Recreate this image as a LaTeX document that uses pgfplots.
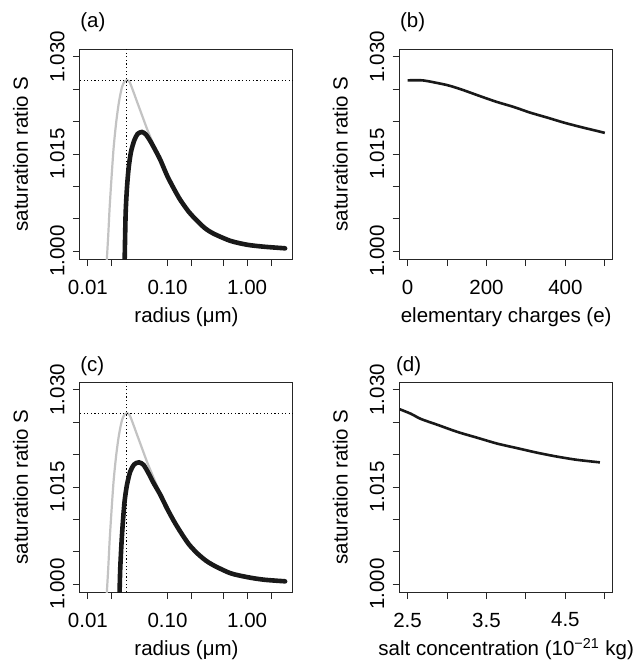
\documentclass[border=0pt]{standalone}
\usepackage{fontspec}
\setmainfont{Liberation Sans}
\usepackage{pgfplots}
\pgfplotsset{compat=1.18}
\definecolor{lgray}{RGB}{195,195,195}
\definecolor{dblack}{RGB}{25,25,25}
\newcommand{\rf}{\fontsize{10.25}{12}\selectfont}
\pgfplotsset{rbase/.style={
  scale only axis, width=106.5pt, height=105pt, anchor=south west,
  axis line style={line width=0.5pt, black!85},
  every tick/.style={line width=0.5pt, black!85},
  tick align=outside, major tick length=3.6pt,
  xtick pos=bottom, ytick pos=left,
  minor tick num=0,
  tick label style={font=\rf},
  label style={font=\rf},
  ymin=0.9988, ymax=1.0312,
  ytick={1,1.005,1.01,1.015,1.02,1.025,1.03},
  yticklabels={1.000,,,1.015,,,1.030},
  yticklabel style={rotate=90, anchor=south, yshift=0.6pt},
  xticklabel style={yshift=-3.3pt},
  ylabel={saturation ratio S},
  ylabel style={at={(axis description cs:0,0.5)}, anchor=base, yshift=26pt},
  xlabel style={at={(axis description cs:0.5,0)}, anchor=base, yshift=-31.8pt},
  clip mode=individual,
}}
\begin{document}
\begin{tikzpicture}
\path[use as bounding box] (0,0) rectangle (319pt,-333pt);
% (a)
\begin{axis}[rbase, at={(40pt,-129.5pt)},
  xmode=log, xmin=0.00796, xmax=3.77,
  xtick={0.01,0.02,0.1,0.2,0.5,1,2}, xticklabels={0.01,,0.10,,,1.00,},
  xminorticks=false, xlabel={radius (μm)}]
\addplot[lgray, line width=1.1pt, smooth, tension=0.45] coordinates {
(0.01700,0.9970) (0.01733,0.9989) (0.01802,1.0025) (0.01873,1.0066) (0.01965,1.0107)
(0.02103,1.0159) (0.02272,1.0200) (0.02454,1.0230) (0.02677,1.0253) (0.02891,1.0262)
(0.03093,1.02640) (0.03342,1.0261) (0.03681,1.0248) (0.04133,1.0231) (0.04777,1.0210)
(0.05522,1.0189) (0.06200,1.0174) (0.07029,1.0158) (0.08124,1.0141) (0.09854,1.0117)
(0.11955,1.0097) (0.14503,1.0079) (0.18454,1.0061) (0.23496,1.0047) (0.29907,1.0035)
(0.38077,1.0027) (0.61688,1.0016) (1.0,1.0010) (1.6203,1.0007) (3.0,1.00045)};
\addplot[black, line width=0.5pt, dash pattern=on 0.6pt off 1.2pt] coordinates {(0.00796,1.02636) (3.77,1.02636)};
\addplot[black, line width=0.5pt, dash pattern=on 0.6pt off 1.2pt] coordinates {(0.0309,0.9988) (0.0309,1.0312)};
\addplot[dblack, line width=2.3pt, line cap=round, smooth, tension=0.45] coordinates {
(0.02885,0.9975) (0.02976,1.0056) (0.03093,1.0097) (0.03247,1.0128) (0.03474,1.0153)
(0.03825,1.0171) (0.04214,1.0181) (0.04777,1.0184) (0.05364,1.0180) (0.06081,1.0170)
(0.07029,1.0156) (0.08124,1.0141) (0.09854,1.0117) (0.11955,1.0097) (0.14503,1.0079)
(0.18454,1.0061) (0.23496,1.0047) (0.29907,1.0035) (0.38077,1.0027) (0.61688,1.0016)
(1.0,1.0010) (1.6203,1.0007) (3.0,1.00045)};
\node[font=\rf, anchor=base west, inner sep=0pt] at ([yshift=10.6pt]rel axis cs:0,1) {(a)};
\end{axis}
% (b)
\begin{axis}[rbase, at={(199.85pt,-129.5pt)},
  xmin=-20, xmax=520,
  xtick={0,100,200,300,400,500}, xticklabels={0,,200,,400,},
  xlabel={elementary charges (e)}]
\addplot[dblack, line width=1.3pt, smooth, tension=0.45] coordinates {
(0,1.02636) (38,1.02636) (84,1.02585) (109,1.02549) (143,1.02482) (185,1.02390)
(227,1.02302) (269,1.02226) (311,1.02138) (354,1.02062) (396,1.01985) (438,1.01918)
(480,1.01856) (500,1.01826)};
\node[font=\rf, anchor=base west, inner sep=0pt] at ([yshift=10.6pt]rel axis cs:0,1) {(b)};
\end{axis}
% (c)
\begin{axis}[rbase, at={(40pt,-296pt)},
  xmode=log, xmin=0.00796, xmax=3.77,
  xtick={0.01,0.02,0.1,0.2,0.5,1,2}, xticklabels={0.01,,0.10,,,1.00,},
  xminorticks=false, xlabel={radius (μm)}]
\addplot[lgray, line width=1.1pt, smooth, tension=0.45] coordinates {
(0.01700,0.9970) (0.01733,0.9989) (0.01802,1.0025) (0.01873,1.0066) (0.01965,1.0107)
(0.02103,1.0159) (0.02272,1.0200) (0.02454,1.0230) (0.02677,1.0253) (0.02891,1.0262)
(0.03093,1.02640) (0.03342,1.0261) (0.03681,1.0248) (0.04133,1.0231) (0.04777,1.0210)
(0.05522,1.0189) (0.06200,1.0174) (0.07029,1.0158) (0.08124,1.0140) (0.09854,1.0117)
(0.11955,1.0098) (0.14503,1.0081) (0.18454,1.0062) (0.23496,1.0048) (0.29907,1.0037)
(0.38077,1.0029) (0.61688,1.0017) (1.0,1.0011) (1.6203,1.0007) (3.0,1.00045)};
\addplot[black, line width=0.5pt, dash pattern=on 0.6pt off 1.2pt] coordinates {(0.00796,1.02636) (3.77,1.02636)};
\addplot[black, line width=0.5pt, dash pattern=on 0.6pt off 1.2pt] coordinates {(0.0309,0.9988) (0.0309,1.0312)};
\addplot[dblack, line width=2.3pt, line cap=round, smooth, tension=0.45] coordinates {
(0.02490,0.9970) (0.02502,0.9989) (0.02550,1.0025) (0.02651,1.0066) (0.02755,1.0097)
(0.02891,1.0128) (0.03093,1.0153) (0.03407,1.0174) (0.03825,1.0185) (0.04379,1.0188)
(0.05013,1.0184) (0.05794,1.0171) (0.06697,1.0156) (0.08124,1.0138) (0.09854,1.0117)
(0.11955,1.0098) (0.14503,1.0081) (0.18454,1.0062) (0.23496,1.0048) (0.29907,1.0037)
(0.38077,1.0029) (0.61688,1.0017) (1.0,1.0011) (1.6203,1.0007) (3.0,1.00045)};
\node[font=\rf, anchor=base west, inner sep=0pt] at ([yshift=5.2pt]rel axis cs:0,1) {(c)};
\end{axis}
% (d)
\begin{axis}[rbase, at={(199.85pt,-296pt)},
  xmin=2.4, xmax=5.1,
  xtick={2.5,3,3.5,4,4.5,5}, xticklabels={2.5,,3.5,,4.5,},
  xlabel={salt concentration (10\textsuperscript{−21} kg)}]
\addplot[dblack, line width=1.3pt, smooth, tension=0.45] coordinates {
(2.40,1.0270) (2.542,1.0263) (2.668,1.0255) (2.878,1.0246) (3.131,1.0235) (3.383,1.0226)
(3.635,1.0217) (3.887,1.0210) (4.139,1.0203) (4.390,1.0197) (4.643,1.0192) (4.938,1.0188)};
\node[font=\rf, anchor=base west, inner sep=0pt] at ([yshift=5.2pt,xshift=-2pt]rel axis cs:0,1) {(d)};
\end{axis}
\end{tikzpicture}
\end{document}
